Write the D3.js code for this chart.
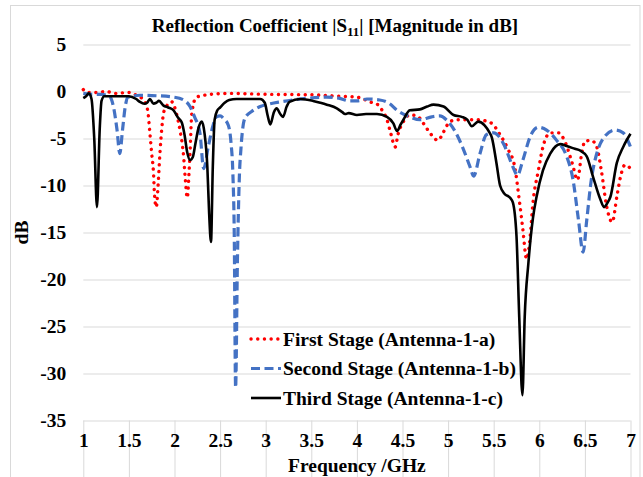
<!DOCTYPE html>
<html>
<head>
<meta charset="utf-8">
<script src="https://cdn.jsdelivr.net/npm/d3@7"></script>
<style>
  body { margin: 0; background: #fff; }
  svg text { font-family: "Liberation Serif", "Times New Roman", serif; font-weight: bold; fill: #000; }
</style>
</head>
<body>
<div id="chart"></div>
<script>
// values
let xTicks = [1, 1.5, 2, 2.5, 3, 3.5, 4, 4.5, 5, 5.5, 6, 6.5, 7];
let yTicks = [5, 0, -5, -10, -15, -20, -25, -30, -35];

let seriesNames = ["First Stage (Antenna-1-a)", "Second Stage (Antenna-1-b)", "Third Stage (Antenna-1-c)"];

let firstFreq = [1.00, 1.05, 1.15, 1.25, 1.35, 1.50, 1.58, 1.64, 1.69, 1.71, 1.73, 1.75, 1.77, 1.78, 1.80, 1.82, 1.84, 1.86, 1.88, 1.91, 1.97,
  2.02, 2.06, 2.10, 2.12, 2.14, 2.16, 2.17, 2.19, 2.24, 2.28, 2.39, 2.60, 3.00, 3.50, 3.80, 4.00, 4.07, 4.14, 4.23, 4.27, 4.33, 4.37,
  4.42, 4.45, 4.51, 4.58, 4.66, 4.73, 4.80, 4.89, 4.95, 5.02, 5.11, 5.26, 5.33, 5.40, 5.48, 5.57, 5.66, 5.73, 5.78, 5.82, 5.86, 5.90,
  5.93, 5.99, 6.04, 6.12, 6.21, 6.28, 6.36, 6.42, 6.46, 6.50, 6.57, 6.63, 6.68, 6.74, 6.80, 6.85, 6.89, 6.94, 7.00];
let firstDb = [0.2, -0.1, -0.1, 0.0, -0.2, -0.1, -0.4, -0.7, -1.4, -2.3, -4.4, -6.6, -8.7, -10.8, -12.3, -10.0, -6.6, -4.0, -2.3, -1.6, -1.1,
  -2.3, -4.1, -6.9, -9.5, -11.3, -8.5, -6.6, -2.3, -0.6, -0.5, -0.3, -0.2, -0.3, -0.35, -0.5, -0.6, -0.8, -1.1, -1.4, -1.9, -3.0, -4.4,
  -5.9, -4.6, -3.2, -2.5, -2.6, -3.4, -4.4, -5.2, -4.3, -3.2, -3.0, -3.0, -3.0, -3.1, -3.4, -4.6, -6.2, -8.0, -11.5, -14.7, -17.8, -15.4,
  -11.9, -8.4, -5.9, -4.4, -4.4, -5.3, -7.6, -9.4, -6.9, -5.3, -5.2, -5.9, -8.4, -12.3, -13.9, -11.2, -9.1, -7.8, -8.2];

let secondFreq = [1.00, 1.10, 1.20, 1.29, 1.33, 1.37, 1.40, 1.43, 1.46, 1.49, 1.62, 1.80, 1.99, 2.10, 2.17, 2.22, 2.28, 2.32, 2.37, 2.42,
  2.46, 2.50, 2.54, 2.59, 2.62, 2.64, 2.655, 2.67, 2.69, 2.71, 2.73, 2.77, 2.85, 2.94, 3.05, 3.16, 3.38, 3.67, 3.80, 3.92, 4.00, 4.11,
  4.25, 4.36, 4.44, 4.51, 4.58, 4.69, 4.82, 4.91, 4.98, 5.08, 5.17, 5.24, 5.28, 5.35, 5.42, 5.50, 5.61, 5.71, 5.76, 5.82, 5.90, 5.99,
  6.08, 6.19, 6.30, 6.37, 6.43, 6.48, 6.52, 6.57, 6.63, 6.70, 6.83, 6.92, 7.00];
let secondDb = [-0.2, -0.3, -0.3, -0.55, -1.6, -4.1, -6.6, -4.1, -1.6, -0.6, -0.4, -0.45, -0.6, -0.9, -1.6, -2.7, -4.5, -8.2, -5.9, -3.7,
  -2.7, -2.6, -2.9, -3.6, -5.5, -8.7, -15, -31.5, -18, -9.4, -5.9, -2.9, -2.1, -1.6, -1.3, -1.1, -0.8, -0.6, -0.7, -1.0, -1.0, -0.8,
  -0.9, -1.3, -2.0, -2.4, -2.7, -3.0, -2.7, -2.6, -3.0, -4.3, -6.2, -8.0, -9.0, -6.6, -4.6, -4.4, -5.6, -8.0, -8.9, -7.3, -4.8, -3.8,
  -4.1, -5.2, -6.9, -9.4, -13.7, -17.1, -13.7, -9.4, -6.6, -5.0, -4.1, -4.4, -5.9];

let thirdFreq = [1.00, 1.03, 1.06, 1.09, 1.12, 1.15, 1.18, 1.20, 1.23, 1.35, 1.50, 1.58, 1.62, 1.67, 1.70, 1.73, 1.77, 1.80, 1.83, 1.88,
  1.93, 1.99, 2.04, 2.08, 2.11, 2.14, 2.17, 2.20, 2.23, 2.26, 2.30, 2.33, 2.36, 2.38, 2.40, 2.42, 2.44, 2.47, 2.50, 2.55, 2.60, 2.68,
  2.80, 2.94, 2.99, 3.02, 3.05, 3.09, 3.12, 3.16, 3.19, 3.23, 3.26, 3.38, 3.52, 3.60, 3.67, 3.78, 3.84, 3.87, 3.91, 4.00, 4.10, 4.22,
  4.33, 4.40, 4.44, 4.48, 4.51, 4.58, 4.69, 4.77, 4.84, 4.95, 5.06, 5.15, 5.21, 5.26, 5.33, 5.40, 5.45, 5.48, 5.53, 5.57, 5.62, 5.68,
  5.71, 5.75, 5.78, 5.815, 5.84, 5.88, 5.93, 5.97, 6.04, 6.12, 6.23, 6.30, 6.39, 6.45, 6.52, 6.59, 6.67, 6.71, 6.75, 6.78, 6.85, 6.92, 7.00];
let thirdDb = [-0.7, -0.5, -0.2, -0.8, -5.0, -12.3, -4.0, -1.0, -0.5, -0.5, -0.5, -0.8, -1.1, -1.3, -1.2, -0.8, -1.3, -1.2, -1.0, -1.5,
  -1.7, -2.0, -2.8, -3.3, -4.6, -6.5, -7.3, -7.0, -5.5, -4.0, -3.2, -4.5, -8.0, -13.0, -16.0, -8.0, -3.0, -2.0, -1.7, -1.2, -0.9, -0.8,
  -0.8, -0.8, -1.2, -2.5, -3.5, -2.2, -1.8, -2.4, -2.7, -1.6, -1.1, -0.8, -1.0, -1.2, -1.4, -1.8, -2.2, -2.4, -2.3, -2.5, -2.4, -2.4,
  -2.7, -3.4, -4.2, -3.5, -3.0, -2.0, -1.9, -1.6, -1.4, -1.6, -2.5, -2.7, -3.0, -3.7, -3.2, -3.6, -4.3, -4.9, -7.6, -10.0, -10.9, -11.3,
  -11.8, -15.4, -24.0, -32.3, -24.0, -18.3, -13.5, -11.2, -8.4, -6.6, -5.6, -5.8, -6.1, -6.3, -6.9, -9.1, -11.5, -12.3, -11.8, -11.2, -7.6, -5.9, -4.5];

let width = 643, height = 477,
  margin = ({ top: 44.5, right: 12.5, bottom: 56.5, left: 83.3 });

let series = [
  { name: seriesNames[0], freq: firstFreq, db: firstDb, color: "#FF0000", dash: "0.1 6.6", cap: "round", w: 3.4 },
  { name: seriesNames[1], freq: secondFreq, db: secondDb, color: "#4472C4", dash: "9 4.5", cap: "butt", w: 3.2 },
  { name: seriesNames[2], freq: thirdFreq, db: thirdDb, color: "#000000", dash: null, cap: "butt", w: 2.6 }
];

let x = d3.scaleLinear()
  .domain([1, 7])
  .range([margin.left, width - margin.right]);

let y = d3.scaleLinear()
  .domain([-35, 5])
  .range([height - margin.bottom, margin.top]);

const svg = d3.select("#chart")
  .append("svg")
  .attr("width", width)
  .attr("height", height)
  .attr("viewBox", [0, 0, width, height]);

// chart area border
svg.append("rect")
  .attr("x", 10.5).attr("y", 5.5)
  .attr("width", 629.5).attr("height", 490)
  .attr("fill", "none")
  .attr("stroke", "#D9D9D9");

// gridlines
svg.append("g")
  .attr("transform", `translate(0,${height - margin.bottom})`)
  .call(d3.axisBottom(x).tickValues(xTicks).tickSize(-(y(5) - y(-35))).tickFormat(""))
  .call(g => g.select(".domain").remove())
  .call(g => g.selectAll("line").attr("stroke", "#D9D9D9").attr("stroke-width", 1));

svg.append("g")
  .attr("transform", `translate(${margin.left},0)`)
  .call(d3.axisLeft(y).tickValues(yTicks).tickSize(-(x(7) - x(1))).tickFormat(""))
  .call(g => g.select(".domain").remove())
  .call(g => g.selectAll("line").attr("stroke", "#D9D9D9").attr("stroke-width", 1));

// tick labels
svg.append("g")
  .attr("transform", `translate(0,${height - margin.bottom})`)
  .call(d3.axisBottom(x).tickValues(xTicks).tickSize(0).tickPadding(13).tickFormat(d => d))
  .call(g => g.select(".domain").remove())
  .call(g => g.attr("font-family", null))
  .call(g => g.selectAll("text").attr("font-size", 19.5));

svg.append("g")
  .attr("transform", `translate(${margin.left},0)`)
  .call(d3.axisLeft(y).tickValues(yTicks).tickSize(0).tickPadding(17).tickFormat(d => d))
  .call(g => g.select(".domain").remove())
  .call(g => g.attr("font-family", null))
  .call(g => g.selectAll("text").attr("font-size", 19.5));

// lines
let line = d3.line()
  .curve(d3.curveMonotoneX)
  .x(d => x(d[0]))
  .y(d => y(d[1]));

for (let s of series) {
  svg.append("path")
    .datum(d3.zip(s.freq, s.db))
    .attr("fill", "none")
    .attr("stroke", s.color)
    .attr("stroke-width", s.w)
    .attr("stroke-dasharray", s.dash)
    .attr("stroke-linecap", s.cap)
    .attr("stroke-linejoin", "round")
    .attr("d", line);
}

// title
let title = svg.append("text")
  .attr("x", 335)
  .attr("y", 32)
  .attr("text-anchor", "middle")
  .attr("font-size", 19);
title.append("tspan").text("Reflection Coefficient |S");
title.append("tspan").attr("font-size", 13).attr("dy", 4).text("11");
title.append("tspan").attr("dy", -4).text("| [Magnitude in dB]");

// axis titles
svg.append("text")
  .attr("x", (x(1) + x(7)) / 2)
  .attr("y", 472)
  .attr("text-anchor", "middle")
  .attr("font-size", 19.5)
  .text("Frequency /GHz");

svg.append("text")
  .attr("transform", `translate(28,${(y(5) + y(-35)) / 2}) rotate(-90)`)
  .attr("text-anchor", "middle")
  .attr("font-size", 19.5)
  .text("dB");

// legend
let legend = svg.append("g");
series.forEach((s, i) => {
  let ly = 339 + i * 29.5;
  legend.append("line")
    .attr("x1", 251).attr("x2", 281)
    .attr("y1", ly).attr("y2", ly)
    .attr("stroke", s.color)
    .attr("stroke-width", s.w)
    .attr("stroke-dasharray", s.dash)
    .attr("stroke-linecap", s.cap);
  legend.append("text")
    .attr("x", 283)
    .attr("y", ly)
    .attr("dy", "0.35em")
    .attr("font-size", 19.5)
    .text(s.name);
});
</script>
</body>
</html>
